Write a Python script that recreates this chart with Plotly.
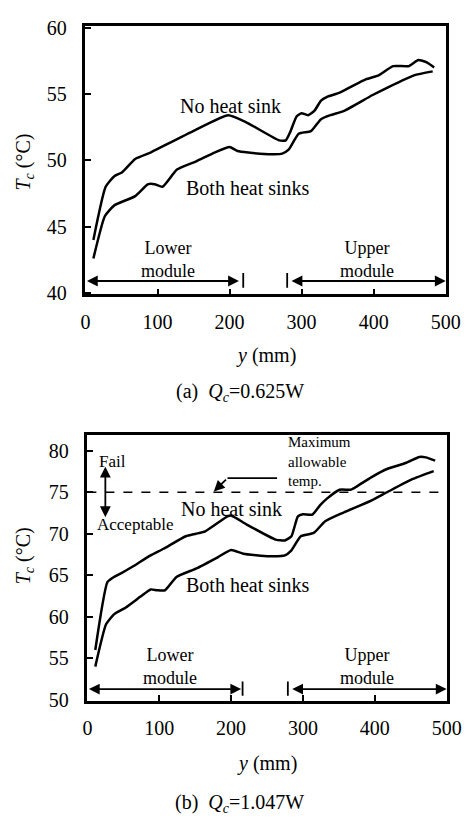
import plotly.graph_objects as go

# ---------------- data: panel (a) Qc = 0.625 W ----------------
a_no_x = [11, 28, 40, 51, 69, 91, 109, 153, 198, 222, 269, 278, 284, 293, 300, 309, 318, 327, 336, 353, 389, 407, 427, 449, 462, 473, 484]
a_no_y = [44.0, 48.0, 48.8, 49.1, 50.1, 50.6, 51.1, 52.3, 53.4, 52.9, 51.5, 51.5, 52.1, 53.3, 53.55, 53.4, 53.75, 54.5, 54.8, 55.1, 56.1, 56.4, 57.1, 57.1, 57.55, 57.4, 57.0]
a_both_x = [11, 27, 40, 69, 87, 96, 107, 127, 153, 180, 200, 211, 242, 273, 282, 296, 313, 327, 340, 358, 398, 420, 456, 482]
a_both_y = [42.6, 45.8, 46.6, 47.3, 48.2, 48.2, 48.0, 49.3, 49.9, 50.6, 51.0, 50.7, 50.5, 50.5, 50.8, 52.0, 52.2, 53.1, 53.4, 53.7, 54.9, 55.5, 56.4, 56.7]

# ---------------- data: panel (b) Qc = 1.047 W ----------------
b_no_x = [11, 28, 37, 48, 62, 88, 106, 137, 151, 164, 195, 200, 222, 262, 275, 284, 293, 300, 313, 324, 333, 351, 366, 373, 395, 417, 444, 462, 471, 484]
b_no_y = [56.0, 64.2, 64.8, 65.3, 66.0, 67.4, 68.2, 69.7, 70.0, 70.3, 72.1, 72.2, 71.1, 69.3, 69.2, 69.7, 72.1, 72.35, 72.3, 73.45, 74.2, 75.3, 75.3, 75.6, 76.8, 77.8, 78.55, 79.25, 79.2, 78.8]
b_both_x = [11, 26, 37, 53, 75, 88, 97, 108, 124, 151, 182, 200, 217, 253, 275, 284, 297, 315, 331, 355, 395, 417, 453, 482]
b_both_y = [54.0, 59.1, 60.3, 61.1, 62.5, 63.3, 63.2, 63.2, 64.8, 65.8, 67.2, 68.05, 67.6, 67.3, 67.4, 68.0, 69.7, 70.1, 71.5, 72.5, 74.0, 75.0, 76.6, 77.55]

max_allow = 75
x_ticks = [0, 100, 200, 300, 400, 500]
a_ticks = [40, 45, 50, 55, 60]
b_ticks = [50, 55, 60, 65, 70, 75, 80]

W, H = 476, 825
FONT = "Liberation Serif"
LW = 2.5

def px(x):
    return x / W

def py(y):
    return 1 - y / H

fig = go.Figure()
line = dict(color="black", width=LW, shape="spline", smoothing=0.5)
fig.add_trace(go.Scatter(x=a_no_x, y=a_no_y, mode="lines", line=line, xaxis="x", yaxis="y", showlegend=False))
fig.add_trace(go.Scatter(x=a_both_x, y=a_both_y, mode="lines", line=line, xaxis="x", yaxis="y", showlegend=False))
fig.add_trace(go.Scatter(x=b_no_x, y=b_no_y, mode="lines", line=line, xaxis="x2", yaxis="y2", showlegend=False))
fig.add_trace(go.Scatter(x=b_both_x, y=b_both_y, mode="lines", line=line, xaxis="x2", yaxis="y2", showlegend=False))

axcommon = dict(showline=True, linecolor="black", linewidth=LW, mirror=True, showgrid=False, zeroline=False,
                ticks="inside", ticklen=6, tickwidth=2, tickcolor="black",
                tickfont=dict(family=FONT, size=20, color="black"))

fig.update_layout(
    width=W, height=H, margin=dict(l=0, r=0, t=0, b=0),
    paper_bgcolor="white", plot_bgcolor="white",
    font=dict(family=FONT, color="black"),
    xaxis=dict(domain=[px(84), px(460)], range=[0, 500], tickvals=x_ticks, anchor="y", ticklabelstandoff=8, **axcommon),
    yaxis=dict(domain=[py(292), py(17)], range=[39.9, 60.15], tickvals=a_ticks, anchor="x", ticklabelstandoff=12, **axcommon),
    xaxis2=dict(domain=[px(86), px(461)], range=[0, 500], tickvals=x_ticks, anchor="y2", ticklabelstandoff=8, **axcommon),
    yaxis2=dict(domain=[py(708), py(436)], range=[49.9, 81.9], tickvals=b_ticks, anchor="x2", ticklabelstandoff=12, **axcommon),
)

ann = []
shapes = []

def text(x, y, s, size, xref="x", yref="y", xanchor="center", **kw):
    ann.append(dict(x=x, y=y, xref=xref, yref=yref, text=s, showarrow=False, xanchor=xanchor, yanchor="middle",
                    font=dict(family=FONT, size=size, color="black"), **kw))

def arrow(x0, y0, x1, y1, xr, yr, both=False):
    ann.append(dict(x=x1, y=y1, ax=x0, ay=y0, xref=xr, yref=yr, axref=xr, ayref=yr, text="", showarrow=True,
                    arrowhead=2, arrowsize=1.2, arrowwidth=1.8, arrowcolor="black", standoff=0, startstandoff=0,
                    arrowside="end+start" if both else "end", startarrowhead=2, startarrowsize=1.2))

def seg(x0, y0, x1, y1, xr, yr, dash="solid", w=1.8):
    shapes.append(dict(type="line", x0=x0, y0=y0, x1=x1, y1=y1, xref=xr, yref=yr,
                       line=dict(color="black", width=w, dash=dash)))

# ---- panel (a) labels ----
text(201, 54.1, "No heat sink", 20)
text(225, 47.9, "Both heat sinks", 20)
text(114, 42.5, "Lower<br>module", 18)
text(391, 42.5, "Upper<br>module", 18)
arrow(0, 40.9, 213, 40.9, "x", "y", both=True)
seg(219, 40.4, 219, 41.5, "x", "y")
seg(280, 40.4, 280, 41.5, "x", "y")
arrow(284, 40.9, 500, 40.9, "x", "y", both=True)

# ---- panel (b) labels ----
text(201, 72.96, "No heat sink", 20, xref="x2", yref="y2")
text(223, 63.8, "Both heat sinks", 20, xref="x2", yref="y2")
text(115, 53.96, "Lower<br>module", 18, xref="x2", yref="y2")
text(389, 53.96, "Upper<br>module", 18, xref="x2", yref="y2")
arrow(0, 51.3, 214, 51.3, "x2", "y2", both=True)
seg(216, 50.5, 216, 52.2, "x2", "y2")
seg(279, 50.5, 279, 52.2, "x2", "y2")
arrow(283, 51.3, 500, 51.3, "x2", "y2", both=True)
seg(0, max_allow, 500, max_allow, "x2", "y2", dash="dash", w=1.5)
text(277, 78.65, "Maximum<br>allowable<br>temp.", 15, xref="x2", yref="y2", xanchor="left", align="left")
seg(264, 76.7, 195, 76.7, "x2", "y2")
arrow(195, 76.7, 176, 75.1, "x2", "y2")
text(13, 78.7, "Fail", 17, xref="x2", yref="y2", xanchor="left")
text(11, 71.1, "Acceptable", 17, xref="x2", yref="y2", xanchor="left")
arrow(25, 78.25, 25, 72.0, "x2", "y2", both=True)

# ---- axis titles and captions ----
for yc in (157, 560):
    text(px(20), py(yc), "<i>T<sub>c</sub></i> (°C)", 20, xref="paper", yref="paper", textangle=-90)
text(px(272), py(355), "<i>y</i> (mm)", 20, xref="paper", yref="paper")
text(px(274), py(772), "<i>y</i> (mm)", 20, xref="paper", yref="paper")
text(px(245), py(393), "(a)  <i>Q<sub>c</sub></i>=0.625W", 20, xref="paper", yref="paper")
text(px(245), py(813), "(b)  <i>Q<sub>c</sub></i>=1.047W", 20, xref="paper", yref="paper")

fig.update_layout(annotations=ann, shapes=shapes)
fig.write_html("out.html")
